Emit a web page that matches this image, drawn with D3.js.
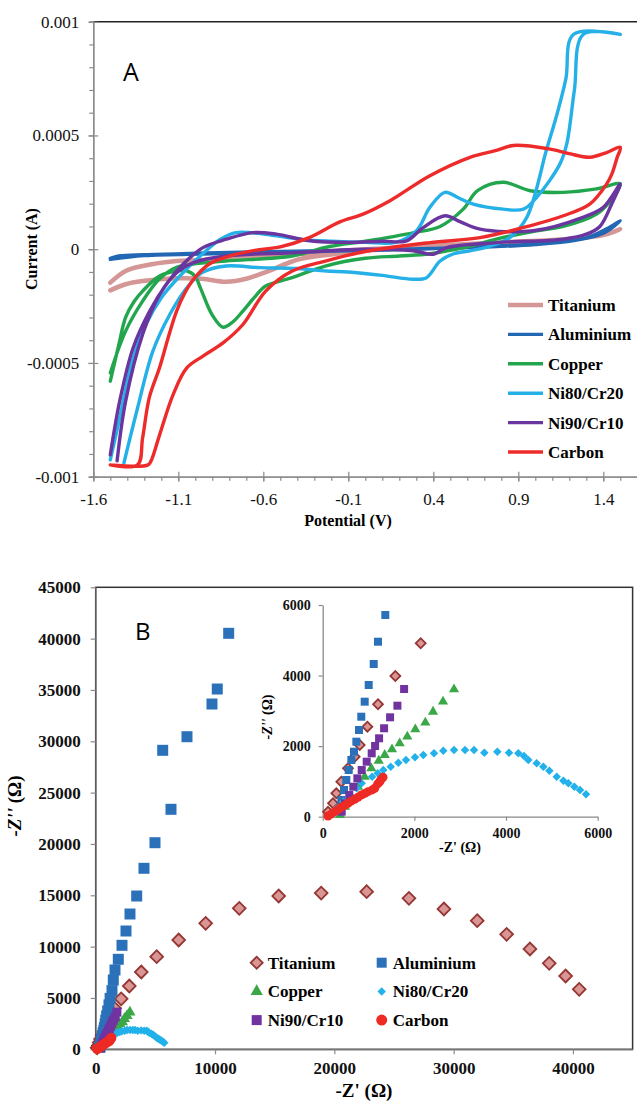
<!DOCTYPE html>
<html>
<head>
<meta charset="utf-8">
<script src="https://cdn.jsdelivr.net/npm/d3@7"></script>
<style>
    body { margin: 0; background: #fff; }
    svg { display: block; }
</style>
</head>
<body>
<div id="chart"></div>
<script>
(function () {
    'use strict';

    // ---------- panel A : cyclic voltammograms, [potential V, current mA] ----------
    var cvPotentialTicks = [-1.6, -1.1, -0.6, -0.1, 0.4, 0.9, 1.4];
    var cvCurrentTicks = [-0.001, -0.0005, 0, 0.0005, 0.001];
    var cvCurrentLabels = ['-0.001', '-0.0005', '0', '0.0005', '0.001'];

    var cvTitanium = [[-1.5, -0.181], [-1.41, -0.154], [-1.31, -0.14], [-1.11, -0.128], [-0.96, -0.13],
        [-0.82, -0.143], [-0.7, -0.13], [-0.57, -0.096], [-0.39, -0.044], [-0.19, -0.022], [0, -0.007],
        [0.4, 0.01], [0.8, 0.025], [1.1, 0.038], [1.3, 0.052], [1.42, 0.068], [1.5, 0.088],
        [1.4, 0.062], [1.2, 0.045], [0.8, 0.03], [0.4, 0.015], [0, 0.0], [-0.43, -0.022],
        [-0.82, -0.044], [-1.11, -0.052], [-1.31, -0.074], [-1.41, -0.096], [-1.5, -0.147]];
    var cvAluminium = [[-1.5, -0.04], [-1.45, -0.03], [-1.3, -0.024], [-1.0, -0.018], [-0.5, -0.01],
        [0, -0.003], [0.5, 0.005], [1.0, 0.02], [1.3, 0.05], [1.42, 0.09], [1.5, 0.125],
        [1.4, 0.07], [1.2, 0.035], [0.8, 0.015], [0.3, 0.0], [-0.3, -0.01], [-0.9, -0.02],
        [-1.3, -0.028], [-1.5, -0.045]];
    var cvCopper = [[-1.5, -0.58], [-1.45, -0.42], [-1.41, -0.3], [-1.36, -0.23], [-1.31, -0.184],
        [-1.21, -0.118], [-1.11, -0.096], [-1.05, -0.095], [-1.0, -0.12], [-0.97, -0.17], [-0.9, -0.29],
        [-0.837, -0.343], [-0.78, -0.32], [-0.72, -0.272], [-0.65, -0.21], [-0.586, -0.162],
        [-0.43, -0.125], [-0.235, -0.074], [0, -0.04], [0.2, -0.03], [0.38, -0.02], [0.6, 0.01],
        [0.77, 0.044], [1.0, 0.08], [1.165, 0.1], [1.36, 0.154], [1.45, 0.22], [1.5, 0.287],
        [1.36, 0.265], [1.165, 0.25], [0.97, 0.257], [0.81, 0.294], [0.66, 0.257], [0.576, 0.176],
        [0.44, 0.1], [0.287, 0.073], [0, 0.035], [-0.21, 0.012], [-0.43, -0.03], [-0.82, -0.052],
        [-1.02, -0.066], [-1.11, -0.08], [-1.21, -0.13], [-1.31, -0.228], [-1.41, -0.36], [-1.5, -0.544]];
    var cvNi80Cr20 = [[-1.5, -0.926], [-1.445, -0.743], [-1.37, -0.49], [-1.29, -0.33], [-1.2, -0.213],
        [-1.1, -0.125], [-0.96, -0.022], [-0.85, 0.045], [-0.76, 0.073], [-0.59, 0.066], [-0.39, 0.044],
        [-0.2, 0.035], [0, 0.03], [0.18, 0.03], [0.3, 0.08], [0.38, 0.184], [0.468, 0.25], [0.55, 0.225],
        [0.635, 0.198], [0.81, 0.176], [0.93, 0.176], [1.008, 0.228], [1.145, 0.375], [1.185, 0.463],
        [1.23, 0.7], [1.282, 0.944], [1.5, 0.944],
        [1.224, 0.944], [1.18, 0.75], [1.13, 0.6], [1.067, 0.44], [0.95, 0.14], [0.85, 0.051],
        [0.72, 0.01], [0.616, -0.007], [0.52, -0.02], [0.44, -0.052], [0.36, -0.125], [0.28, -0.132],
        [0.1, -0.115], [-0.1, -0.1], [-0.23, -0.096], [-0.4, -0.085], [-0.62, -0.081], [-0.82, -0.074],
        [-0.96, -0.103], [-1.05, -0.17], [-1.15, -0.287], [-1.25, -0.449], [-1.34, -0.699], [-1.42, -0.94]];
    var cvNi90Cr10 = [[-1.5, -0.904], [-1.445, -0.669], [-1.366, -0.434], [-1.268, -0.272],
        [-1.17, -0.154], [-1.072, -0.066], [-0.955, 0.007], [-0.818, 0.044], [-0.66, 0.073],
        [-0.523, 0.066], [-0.327, 0.037], [-0.1, 0.03], [0.1, 0.035], [0.243, 0.037], [0.34, 0.095],
        [0.469, 0.147], [0.56, 0.12], [0.675, 0.088], [0.988, 0.081], [1.28, 0.14], [1.4, 0.184],
        [1.5, 0.287], [1.45, 0.2], [1.38, 0.1], [1.3, 0.066], [1.165, 0.044], [0.773, 0.029],
        [0.479, 0.007], [0.4, -0.022], [0.282, -0.007], [0, 0.0], [-0.4, -0.015], [-0.82, -0.03],
        [-1.01, -0.059], [-1.11, -0.103], [-1.21, -0.2], [-1.31, -0.375], [-1.41, -0.669], [-1.46, -0.93]];
    var cvCarbon = [[-1.5, -0.948], [-1.34, -0.948], [-1.31, -0.83], [-1.27, -0.65], [-1.21, -0.52],
        [-1.16, -0.39], [-1.11, -0.272], [-1.06, -0.19], [-1.01, -0.132], [-0.92, -0.066], [-0.8, -0.03],
        [-0.65, -0.005], [-0.5, 0.01], [-0.33, 0.051], [-0.15, 0.12], [-0.013, 0.154], [0.145, 0.213],
        [0.38, 0.323], [0.616, 0.404], [0.77, 0.434], [0.87, 0.456], [1.08, 0.441], [1.2, 0.42],
        [1.32, 0.404], [1.42, 0.425], [1.5, 0.448],
        [1.48, 0.4], [1.45, 0.33], [1.42, 0.287], [1.32, 0.198], [1.165, 0.147], [0.969, 0.103],
        [0.675, 0.051], [0.38, 0.029], [0, -0.01], [-0.235, -0.052], [-0.43, -0.096], [-0.586, -0.184],
        [-0.72, -0.331], [-0.837, -0.412], [-0.955, -0.47], [-1.05, -0.522], [-1.131, -0.64],
        [-1.21, -0.816], [-1.26, -0.93], [-1.278, -0.948], [-1.5, -0.948]];

    // ---------- panel B : Nyquist plots, [-Z' ohm, -Z'' ohm] ----------
    var eisMainXTicks = [0, 10000, 20000, 30000, 40000];
    var eisMainYTicks = [0, 5000, 10000, 15000, 20000, 25000, 30000, 35000, 40000, 45000];
    var eisInsetTicks = [0, 2000, 4000, 6000];

    var eisTitanium = [[116, 142], [225, 380], [297, 663], [406, 992], [552, 1372], [698, 1700],
        [808, 2032], [975, 2551], [1207, 3186], [1585, 3988], [2138, 4915], [2816, 6165], [3821, 7529],
        [5112, 9021], [6956, 10646], [9218, 12269], [12034, 13733], [15336, 14931], [18900, 15220],
        [22710, 15351], [26255, 14707], [29188, 13665], [31978, 12526], [34442, 11201], [36395, 9769],
        [38013, 8376], [39387, 7140], [40526, 5844]];
    var eisAluminium = [[334, 190], [406, 473], [465, 757], [515, 1040], [567, 1324], [625, 1607],
        [683, 1842], [734, 2126], [792, 2457], [842, 2834], [916, 3260], [1004, 3733], [1113, 4328],
        [1207, 4960], [1366, 5717], [1475, 6750], [1617, 7724], [1894, 8766], [2204, 10129],
        [2539, 11523], [2874, 13178], [3436, 14931], [4048, 17629], [4969, 20122], [6310, 23376],
        [5615, 29122], [7651, 30447], [9746, 33632], [10190, 35093], [11146, 40518]];
    var eisCopper = [[378, 47], [487, 283], [625, 567], [770, 850], [916, 1134], [1061, 1372],
        [1222, 1587], [1353, 1749], [1512, 1910], [1680, 2081], [1846, 2268], [2021, 2477],
        [2239, 2665], [2407, 2976], [2625, 3260], [2865, 3611]];
    var eisNi80Cr20 = [[160, 47], [305, 236], [451, 425], [596, 614], [742, 803], [851, 946],
        [1078, 1134], [1200, 1230], [1323, 1324], [1484, 1417], [1650, 1531], [1818, 1607],
        [2014, 1683], [2195, 1749], [2428, 1796], [2631, 1871], [2865, 1890], [3105, 1890],
        [3301, 1890], [3526, 1814], [3810, 1843], [4065, 1814], [4268, 1796], [4392, 1720],
        [4486, 1607], [4669, 1513], [4814, 1417], [4945, 1304], [5106, 1134], [5251, 1020],
        [5360, 946], [5490, 850], [5614, 756], [5745, 634]];
    var eisNi90Cr10 = [[415, 142], [487, 380], [580, 614], [668, 850], [756, 1088], [851, 1324],
        [960, 1559], [1069, 1796], [1143, 2004], [1230, 2222], [1339, 2506], [1470, 2817],
        [1630, 3146], [1776, 3619]];
    var eisCarbon = [[116, 20], [190, 80], [262, 142], [330, 200], [406, 266], [480, 320], [552, 380],
        [620, 440], [698, 493], [770, 550], [842, 614], [920, 660], [989, 709], [1080, 760],
        [1135, 805], [1200, 930], [1244, 992], [1270, 1050], [1316, 1117]];

    var materials = ['Titanium', 'Aluminium', 'Copper', 'Ni80/Cr20', 'Ni90/Cr10', 'Carbon'];
    var cvSeries = [cvTitanium, cvAluminium, cvCopper, cvNi80Cr20, cvNi90Cr10, cvCarbon];
    var eisSeries = [eisTitanium, eisAluminium, eisCopper, eisNi80Cr20, eisNi90Cr10, eisCarbon];

    var lineColors = ['#d59696', '#2267b3', '#22a64d', '#25b0e7', '#6a359f', '#ee2b2b'];
    var lineWidths = [4.5, 3.4, 3.4, 3.4, 3.4, 3.4];
    var markerStyles = [
        { type: 'diamond', fill: '#d99694', stroke: '#943634', main: 9, inset: 7, legend: 8.5 },
        { type: 'square', fill: '#2b71ba', stroke: 'none', main: 11, inset: 8, legend: 10 },
        { type: 'triangle', fill: '#3ba847', stroke: 'none', main: 11, inset: 10, legend: 12 },
        { type: 'diamond', fill: '#22b1ea', stroke: 'none', main: 6, inset: 6, legend: 6 },
        { type: 'square', fill: '#7033a0', stroke: 'none', main: 9, inset: 8, legend: 10 },
        { type: 'circle', fill: '#ee2a24', stroke: 'none', main: 10, inset: 9, legend: 11 }
    ];

    var serif = '"Liberation Serif", "Times New Roman", serif';
    var sans = '"Open Sans", "Liberation Sans", Arial, sans-serif';
    var axisGray = '#8a8a8a';

    var svg = d3.select('#chart')
        .append('svg')
        .attr('width', 637)
        .attr('height', 1103);

    drawVoltammograms(svg);
    drawNyquist(svg);

    function styleAxis(g, fontSize, bold) {
        g.select('.domain').attr('stroke', axisGray).attr('stroke-width', 1.3);
        g.selectAll('.tick line').attr('stroke', axisGray).attr('stroke-width', 1.2);
        g.selectAll('.tick text')
            .attr('fill', '#111')
            .style('font-family', serif)
            .style('font-size', fontSize + 'px')
            .style('font-weight', bold ? 'bold' : 'normal');
    }

    function symbolPath(style, sideOrDiameter) {
        var type = d3.symbolSquare;
        var area = sideOrDiameter * sideOrDiameter;
        if (style.type === 'triangle') {
            type = d3.symbolTriangle;
            area = sideOrDiameter * sideOrDiameter * 0.45;
        } else if (style.type === 'circle') {
            type = d3.symbolCircle;
            area = Math.PI * sideOrDiameter * sideOrDiameter / 4;
        }
        return d3.symbol().type(type).size(area)();
    }

    function addMarker(group, style, size, cx, cy) {
        var rot = style.type === 'diamond' ? ' rotate(45)' : '';
        group.append('path')
            .attr('d', symbolPath(style, size))
            .attr('transform', 'translate(' + cx + ',' + cy + ')' + rot)
            .attr('fill', style.fill)
            .attr('stroke', style.stroke)
            .attr('stroke-width', style.stroke === 'none' ? 0 : 1.8);
    }

    function drawVoltammograms(svg) {
        var x = d3.scaleLinear().domain([-1.6, 1.6]).range([93.3, 637.3]);
        var y = d3.scaleLinear().domain([-0.001, 0.001]).range([476.7, 21.7]);
        var g = svg.append('g');

        g.append('line')
            .attr('x1', x(-1.6)).attr('x2', x(1.6))
            .attr('y1', y(0.001)).attr('y2', y(0.001))
            .attr('stroke', '#222').attr('stroke-width', 1.5);

        // minor ticks
        var minorY = g.append('g')
            .attr('transform', 'translate(' + x(-1.6) + ',0)')
            .call(d3.axisLeft(y).tickValues(d3.range(-10, 11).map(function (k) { return k * 0.0001; }))
                .tickSize(4).tickFormat(''));
        styleAxis(minorY, 17, false);
        var minorX = g.append('g')
            .attr('transform', 'translate(0,' + y(-0.001) + ')')
            .call(d3.axisBottom(x).tickValues(d3.range(-16, 17).map(function (k) { return k / 10; }))
                .tickSize(4).tickFormat(''));
        styleAxis(minorX, 17, false);

        var yAxis = g.append('g')
            .attr('transform', 'translate(' + x(-1.6) + ',0)')
            .call(d3.axisLeft(y).tickValues(cvCurrentTicks)
                .tickFormat(function (d, i) { return cvCurrentLabels[i]; })
                .tickSizeInner(5).tickSizeOuter(0).tickPadding(9));
        yAxis.selectAll('.tick line').attr('x1', 5);
        styleAxis(yAxis, 17, false);

        var xAxis = g.append('g')
            .attr('transform', 'translate(0,' + y(-0.001) + ')')
            .call(d3.axisBottom(x).tickValues(cvPotentialTicks)
                .tickFormat(function (d) { return d.toFixed(1); })
                .tickSizeInner(5).tickSizeOuter(0).tickPadding(11));
        xAxis.selectAll('.tick line').attr('y1', -5);
        styleAxis(xAxis, 17, false);

        var line = d3.line()
            .x(function (d) { return x(d[0]); })
            .y(function (d) { return y(d[1] * 1e-3); })
            .curve(d3.curveCatmullRom.alpha(0.5));

        g.selectAll('path.cv')
            .data(cvSeries)
            .enter()
            .append('path')
            .attr('class', 'cv')
            .attr('d', line)
            .attr('fill', 'none')
            .attr('stroke', function (d, i) { return lineColors[i]; })
            .attr('stroke-width', function (d, i) { return lineWidths[i]; })
            .attr('stroke-linejoin', 'round')
            .attr('stroke-linecap', 'round');

        var legend = g.append('g').attr('transform', 'translate(508,305)');
        materials.forEach(function (name, i) {
            var row = legend.append('g').attr('transform', 'translate(0,' + (i * 29.4) + ')');
            row.append('line')
                .attr('x1', 0).attr('x2', 35)
                .attr('stroke', lineColors[i])
                .attr('stroke-width', lineWidths[i]);
            row.append('text')
                .attr('x', 40).attr('dy', '0.35em')
                .style('font-family', serif).style('font-size', '17px').style('font-weight', 'bold')
                .text(name);
        });

        g.append('text')
            .attr('x', 123).attr('y', 81)
            .style('font-family', sans).style('font-size', '25px')
            .text('A');

        g.append('text')
            .attr('x', 348).attr('y', 526)
            .attr('text-anchor', 'middle')
            .style('font-family', serif).style('font-size', '16px').style('font-weight', 'bold')
            .text('Potential (V)');

        g.append('text')
            .attr('transform', 'translate(37,249) rotate(-90)')
            .attr('text-anchor', 'middle')
            .style('font-family', serif).style('font-size', '16px').style('font-weight', 'bold')
            .text('Current (A)');
    }

    function yTitle(g, text, cx, cy, fontSize) {
        var t = g.append('text')
            .attr('transform', 'translate(' + cx + ',' + cy + ') rotate(-90)')
            .attr('text-anchor', 'middle')
            .style('font-family', serif).style('font-size', fontSize + 'px').style('font-weight', 'bold');
        t.append('tspan').style('font-style', 'italic').text(text);
        t.append('tspan').text(' (\u03a9)');
    }

    function drawNyquist(svg) {
        var x = d3.scaleLinear().domain([0, 45000]).range([95.7, 632.6]);
        var y = d3.scaleLinear().domain([0, 45000]).range([1049.3, 587.3]);
        var xi = d3.scaleLinear().domain([0, 6000]).range([322.7, 597.7]);
        var yi = d3.scaleLinear().domain([0, 6000]).range([816.7, 605]);
        var g = svg.append('g');

        g.append('rect')
            .attr('x', x(0)).attr('y', y(45000))
            .attr('width', x(45000) - x(0)).attr('height', y(0) - y(45000))
            .attr('fill', 'none').attr('stroke', '#333').attr('stroke-width', 1.5);

        var yAxis = g.append('g')
            .attr('transform', 'translate(' + x(0) + ',0)')
            .call(d3.axisLeft(y).tickValues(eisMainYTicks).tickFormat(String)
                .tickSizeInner(5).tickSizeOuter(0).tickPadding(10));
        styleAxis(yAxis, 17, true);
        var xAxis = g.append('g')
            .attr('transform', 'translate(0,' + y(0) + ')')
            .call(d3.axisBottom(x).tickValues(eisMainXTicks).tickFormat(String)
                .tickSizeInner(5).tickSizeOuter(0).tickPadding(8));
        styleAxis(xAxis, 17, true);

        // inset axes
        var yiAxis = g.append('g')
            .attr('transform', 'translate(' + xi(0) + ',0)')
            .call(d3.axisLeft(yi).tickValues(eisInsetTicks).tickFormat(String)
                .tickSizeInner(4).tickSizeOuter(0).tickPadding(8));
        styleAxis(yiAxis, 14, true);
        var xiAxis = g.append('g')
            .attr('transform', 'translate(0,' + yi(0) + ')')
            .call(d3.axisBottom(xi).tickValues(eisInsetTicks).tickFormat(String)
                .tickSizeInner(4).tickSizeOuter(0).tickPadding(7));
        styleAxis(xiAxis, 14, true);

        // main markers
        eisSeries.forEach(function (pts, i) {
            var layer = g.append('g');
            pts.forEach(function (d) {
                addMarker(layer, markerStyles[i], markerStyles[i].main, x(d[0]), y(d[1]));
            });
        });

        // inset markers, only points inside the inset range
        eisSeries.forEach(function (pts, i) {
            var layer = g.append('g');
            pts.filter(function (d) { return d[0] <= 6000 && d[1] <= 6000; })
                .forEach(function (d) {
                    addMarker(layer, markerStyles[i], markerStyles[i].inset, xi(d[0]), yi(d[1]));
                });
        });

        // legend, two columns
        var legend = g.append('g');
        materials.forEach(function (name, i) {
            var cx = i % 2 === 0 ? 256.7 : 381.7;
            var cy = 962.7 + Math.floor(i / 2) * 28.7;
            addMarker(legend, markerStyles[i], markerStyles[i].legend, cx, cy);
            legend.append('text')
                .attr('x', cx + 11).attr('y', cy).attr('dy', '0.35em')
                .style('font-family', serif).style('font-size', '17px').style('font-weight', 'bold')
                .text(name);
        });

        g.append('text')
            .attr('x', 135).attr('y', 640)
            .style('font-family', sans).style('font-size', '24px')
            .text('B');

        g.append('text')
            .attr('x', 364).attr('y', 1097)
            .attr('text-anchor', 'middle')
            .style('font-family', serif).style('font-size', '19px').style('font-weight', 'bold')
            .text('-Z\' (\u03a9)');
        yTitle(g, '-Z\'\'', 21, 806, 19);

        g.append('text')
            .attr('x', 460).attr('y', 852)
            .attr('text-anchor', 'middle')
            .style('font-family', serif).style('font-size', '14px').style('font-weight', 'bold')
            .text('-Z\' (\u03a9)');
        yTitle(g, '-Z\'\'', 272, 717, 14);
    }

}());
</script>
</body>
</html>
